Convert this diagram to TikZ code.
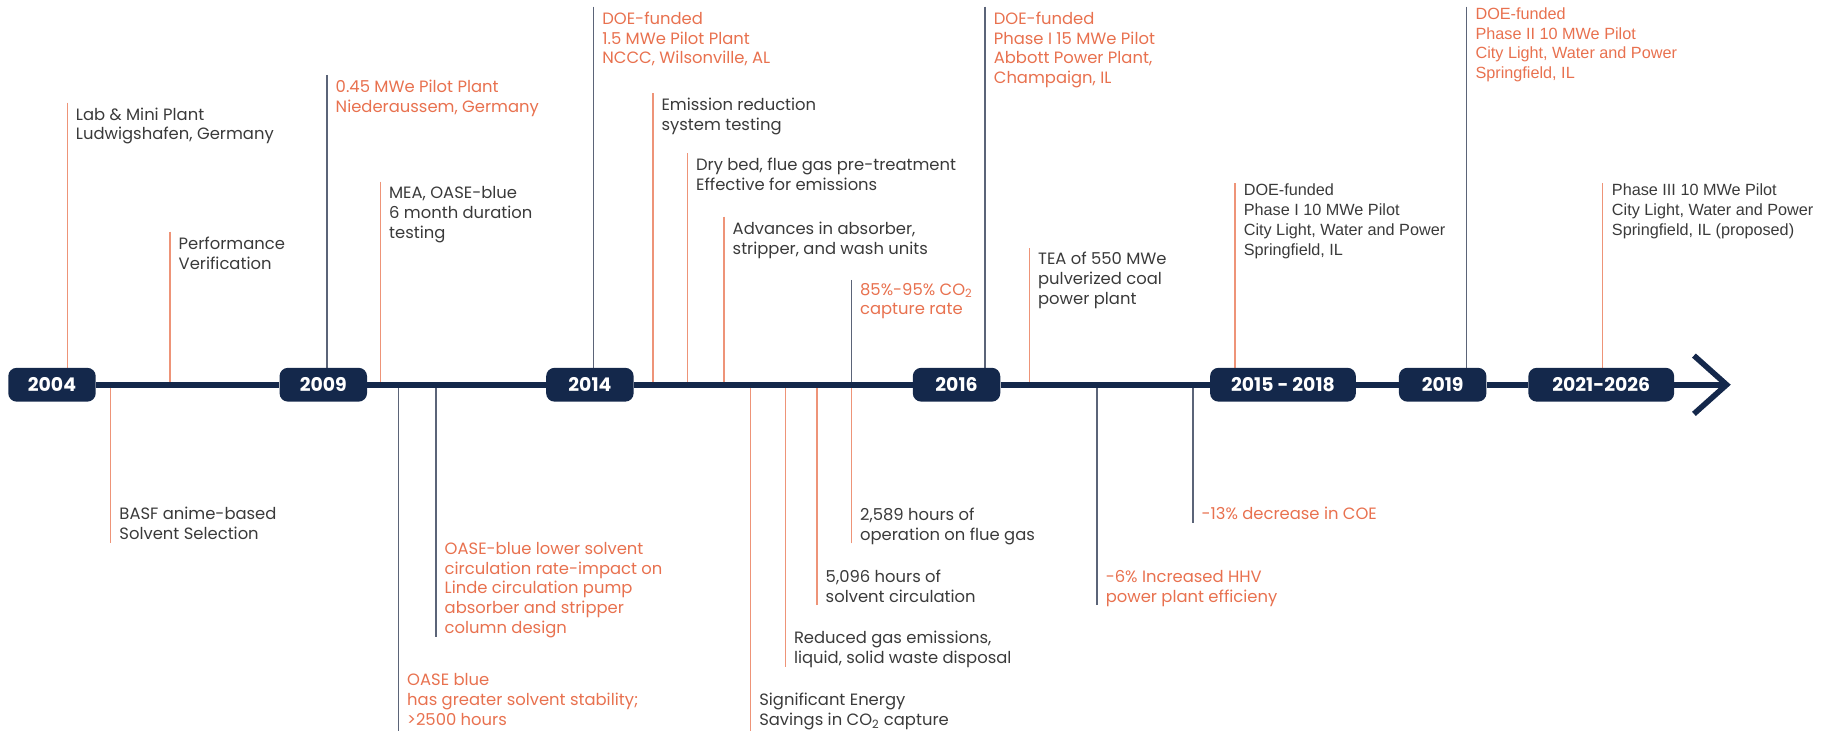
\documentclass[tikz,border=0pt]{standalone}
\usepackage{fontspec}
\setmainfont{Poppins}
\newfontfamily\arialfont{Liberation Sans}
\usepackage{tikz}
\usetikzlibrary{positioning}

\definecolor{navy}{HTML}{14284B}
\definecolor{accent}{HTML}{E8714F}
\definecolor{accentline}{HTML}{EE9478}
\definecolor{stemgrey}{HTML}{5B6478}
\definecolor{ink}{HTML}{3A3A3A}

\tikzset{
  yearbox/.style={fill=navy, rounded corners=1.8mm, text=white,
    font=\bfseries\fontsize{11.5}{13}\selectfont,
    minimum height=7.25mm, minimum width=18.75mm, inner sep=0pt},
  widebox/.style={yearbox, minimum width=31.25mm},
  timeline/.style={navy, line width=3.4pt},
  stemO/.style={accentline, line width=0.9pt},
  stemD/.style={stemgrey, line width=0.9pt},
  note/.style={align=left, inner sep=0pt, text=ink,
    font=\fontsize{10}{12.1}\selectfont,
    execute at begin node=\strut, execute at end node=\strut},
  noteO/.style={note, text=accent},
  arialnote/.style={note, font=\arialfont\fontsize{9.9}{12.1}\selectfont},
  arialnoteO/.style={arialnote, text=accent}
}

\begin{document}
\begin{tikzpicture}[x=0.025cm, y=-0.025cm]
        \useasboundingbox (0,0) rectangle (1568,627);
        \coordinate (axis) at (0,330);

        % Lines above the axis
        \coordinate (mini) at (57.7,88);
        \coordinate (verif) at (145.8,198.7);
        \coordinate (pilot045) at (280.5,64.3);
        \coordinate (mea) at (326.3,155.8);
        \coordinate (nccc) at (509.2,5.7);
        \coordinate (emis) at (560,80);
        \coordinate (drybed) at (589.6,131.5);
        \coordinate (adv) at (621,185.9);
        \coordinate (rate) at (730.3,240);
        \coordinate (abbott) at (845,5.7);
        \coordinate (tea) at (883,213);
        \coordinate (phase1) at (1059.4,157);
        \coordinate (phase2) at (1257.8,5.7);
        \coordinate (phase3) at (1374.4,157);
        \draw[stemO] (mini) -- (mini |- axis);
        \draw[stemO] (verif) -- (verif |- axis);
        \draw[stemD] (pilot045) -- (pilot045 |- axis);
        \draw[stemO] (mea) -- (mea |- axis);
        \draw[stemD] (nccc) -- (nccc |- axis);
        \draw[stemO] (emis) -- (emis |- axis);
        \draw[stemO] (drybed) -- (drybed |- axis);
        \draw[stemO] (adv) -- (adv |- axis);
        \draw[stemD] (rate) -- (rate |- axis);
        \draw[stemD] (abbott) -- (abbott |- axis);
        \draw[stemO] (tea) -- (tea |- axis);
        \draw[stemO] (phase1) -- (phase1 |- axis);
        \draw[stemD] (phase2) -- (phase2 |- axis);
        \draw[stemO] (phase3) -- (phase3 |- axis);

        % Lines below the axis
        \coordinate (basf) at (95,465.5);
        \coordinate (stable) at (341.8,627);
        \coordinate (circ) at (374,546);
        \coordinate (energy) at (643.8,627);
        \coordinate (waste) at (673.6,571.9);
        \coordinate (h5096) at (700.8,519);
        \coordinate (h2589) at (730.3,466);
        \coordinate (hhv) at (941,519);
        \coordinate (coe) at (1023.2,448.3);
        \draw[stemO] (basf) -- (basf |- axis);
        \draw[stemD] (stable) -- (stable |- axis);
        \draw[stemD] (circ) -- (circ |- axis);
        \draw[stemO] (energy) -- (energy |- axis);
        \draw[stemO] (waste) -- (waste |- axis);
        \draw[stemO] (h5096) -- (h5096 |- axis);
        \draw[stemO] (h2589) -- (h2589 |- axis);
        \draw[stemD] (hhv) -- (hhv |- axis);
        \draw[stemD] (coe) -- (coe |- axis);

        % Labels above
        \node[note, below right=1mm and 1.8mm of mini] (mini-txt) {Lab \& Mini Plant\\Ludwigshafen, Germany};
        \node[note, below right=1mm and 1.8mm of verif] (verif-txt) {Performance\\Verification};
        \node[noteO, below right=1mm and 1.8mm of pilot045] (pilot045-txt) {0.45 MWe Pilot Plant\\Niederaussem, Germany};
        \node[note, below right=1mm and 1.8mm of mea] (mea-txt) {MEA, OASE-blue\\6 month duration\\testing};
        \node[noteO, below right=1mm and 1.8mm of nccc] (nccc-txt) {DOE-funded\\1.5 MWe Pilot Plant\\NCCC, Wilsonville, AL};
        \node[note, below right=1mm and 1.8mm of emis] (emis-txt) {Emission reduction\\system testing};
        \node[note, below right=1mm and 1.8mm of drybed] (drybed-txt) {Dry bed, flue gas pre-treatment\\Effective for emissions};
        \node[note, below right=1mm and 1.8mm of adv] (adv-txt) {Advances in absorber,\\stripper, and wash units};
        \node[noteO, below right=0.6mm and 1.8mm of rate] (rate-txt) {85\%-95\% CO\textsubscript{2}\\capture rate};
        \node[noteO, below right=1mm and 1.8mm of abbott] (abbott-txt) {DOE-funded\\Phase I 15 MWe Pilot\\Abbott Power Plant,\\Champaign, IL};
        \node[note, below right=0.8mm and 1.8mm of tea] (tea-txt) {TEA of 550 MWe\\pulverized coal\\power plant};
        \node[arialnote, below right=0.1mm and 1.8mm of phase1] (phase1-txt) {DOE-funded\\Phase I 10 MWe Pilot\\City Light, Water and Power\\Springfield, IL};
        \node[arialnoteO, below right=0.1mm and 1.9mm of phase2] (phase2-txt) {DOE-funded\\Phase II 10 MWe Pilot\\City Light, Water and Power\\Springfield, IL};
        \node[arialnote, below right=0.1mm and 2mm of phase3] (phase3-txt) {Phase III 10 MWe Pilot\\City Light, Water and Power\\Springfield, IL (proposed)};

        % Labels below
        \node[note, above right=-0.7mm and 1.8mm of basf] (basf-txt) {BASF anime-based\\Solvent Selection};
        \node[noteO, above right=-0.2mm and 1.8mm of stable] (stable-txt) {OASE blue\\has greater solvent stability;\\>2500 hours};
        \node[noteO, above right=-0.7mm and 1.8mm of circ] (circ-txt) {OASE-blue lower solvent\\circulation rate-impact on\\Linde circulation pump\\absorber and stripper\\column design};
        \node[note, above right=-0.2mm and 1.8mm of energy] (energy-txt) {Significant Energy\\Savings in CO\textsubscript{2} capture};
        \node[note, above right=-0.7mm and 1.8mm of waste] (waste-txt) {Reduced gas emissions,\\liquid, solid waste disposal};
        \node[note, above right=-0.7mm and 1.8mm of h5096] (h5096-txt) {5,096 hours of\\solvent circulation};
        \node[note, above right=-0.7mm and 1.8mm of h2589] (h2589-txt) {2,589 hours of\\operation on flue gas};
        \node[noteO, above right=-0.7mm and 1.8mm of hhv] (hhv-txt) {-6\% Increased HHV\\power plant efficieny};
        \node[noteO, above right=-0.7mm and 1.8mm of coe] (coe-txt) {-13\% decrease in COE};

        % Year boxes
        \node[yearbox] (y2004) at (44.6,330) {2004};
        \node[yearbox] (y2009) at (277.3,330) {2009};
        \node[yearbox] (y2014) at (506,330) {2014};
        \node[yearbox] (y2016) at (820.5,330) {2016};
        \node[widebox] (y2015) at (1100.5,330) {2015 - 2018};
        \node[yearbox] (y2019) at (1237.5,330) {2019};
        \node[widebox] (y2021) at (1373.5,330) {2021-2026};

        % Axis and arrow
        \coordinate (tip) at (1481,330);
        \draw[timeline] (y2004) -- (y2009);
        \draw[timeline] (y2009) -- (y2014);
        \draw[timeline] (y2014) -- (y2016);
        \draw[timeline] (y2016) -- (y2015);
        \draw[timeline] (y2015) -- (y2019);
        \draw[timeline] (y2019) -- (y2021);
        \draw[timeline] (y2021) -- (tip);
        \draw[timeline] (tip) ++(-28,-25) -- (tip) -- ++(-28,25);
    \end{tikzpicture}
\end{document}
